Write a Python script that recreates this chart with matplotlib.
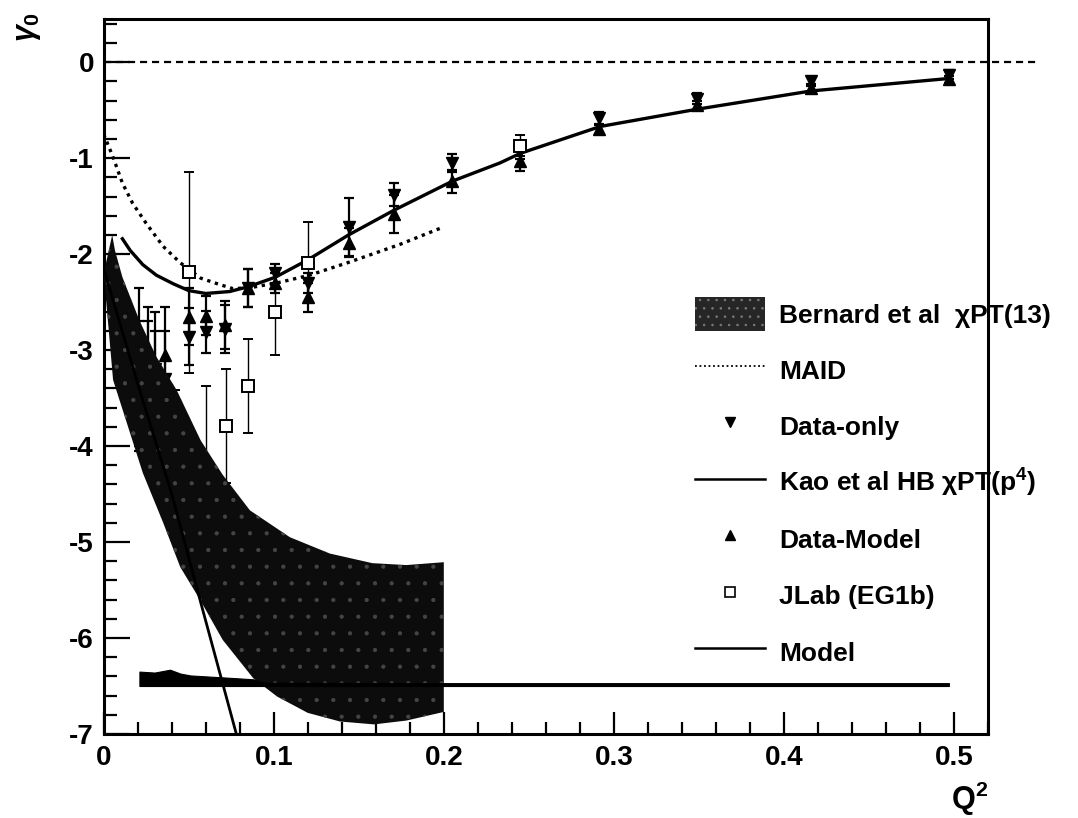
import numpy as np
import matplotlib
matplotlib.use("Agg")
import matplotlib.pyplot as plt
from matplotlib.patches import Patch
from matplotlib.lines import Line2D
from matplotlib.ticker import MultipleLocator

plt.rcParams["font.family"] = ["Liberation Sans", "DejaVu Sans"]
plt.rcParams["font.weight"] = "bold"
plt.rcParams["axes.labelweight"] = "bold"
plt.rcParams["axes.unicode_minus"] = False
plt.rcParams["mathtext.fontset"] = "custom"
plt.rcParams["mathtext.rm"] = "Liberation Sans:bold"
plt.rcParams["mathtext.it"] = "Liberation Sans:bold:italic"
plt.rcParams["mathtext.bf"] = "Liberation Sans:bold"
plt.rcParams["hatch.linewidth"] = 0.6

# ---- Bernard et al chiPT band (upper / lower edges) ----
band_up_x = [0.0, 0.005, 0.0066, 0.011, 0.021, 0.031, 0.043, 0.057, 0.070, 0.086, 0.1095, 0.133, 0.158, 0.178, 0.200]
band_up_y = [-2.2, -1.8, -1.96, -2.24, -2.69, -3.07, -3.42, -3.94, -4.30, -4.67, -4.95, -5.12, -5.22, -5.24, -5.21]
band_lo_x = [0.0, 0.003, 0.0055, 0.0174, 0.023, 0.035, 0.045, 0.0566, 0.070, 0.088, 0.102, 0.120, 0.139, 0.159, 0.178, 0.200]
band_lo_y = [-2.2, -2.8, -3.31, -3.97, -4.28, -4.80, -5.26, -5.60, -6.02, -6.42, -6.61, -6.78, -6.87, -6.90, -6.86, -6.77]

# ---- MAID (dotted) ----
maid_x = [0.0, 0.0055, 0.011, 0.017, 0.025, 0.035, 0.045, 0.057, 0.067, 0.076, 0.086, 0.102, 0.121, 0.145, 0.174, 0.198]
maid_y = [-0.75, -0.99, -1.26, -1.47, -1.68, -1.92, -2.09, -2.25, -2.31, -2.36, -2.35, -2.30, -2.22, -2.08, -1.90, -1.73]

# ---- Kao et al HB chiPT(p4) ----
kao_x = [0.0, 0.02, 0.04, 0.0566, 0.078, 0.082]
kao_y = [-2.15, -3.35, -4.50, -5.60, -7.00, -7.27]

# ---- Model ----
model_x = [0.011, 0.0155, 0.023, 0.031, 0.041, 0.050, 0.060, 0.074, 0.085, 0.101, 0.120, 0.144, 0.171, 0.205, 0.233, 0.245, 0.292, 0.349, 0.416, 0.497]
model_y = [-1.84, -1.96, -2.11, -2.22, -2.31, -2.38, -2.41, -2.39, -2.34, -2.24, -2.06, -1.80, -1.54, -1.24, -1.05, -0.95, -0.67, -0.49, -0.30, -0.17]

# ---- Data points ----
q2 = [0.021, 0.026, 0.030, 0.036, 0.050, 0.060, 0.0714, 0.085, 0.101, 0.120, 0.144, 0.171, 0.205, 0.245, 0.291, 0.349, 0.416, 0.497]
data_only = [-3.2, -3.3, -3.2, -3.3, -2.86, -2.81, -2.78, -2.35, -2.20, -2.30, -1.72, -1.38, -1.05, -0.93, -0.58, -0.38, -0.20, -0.13]
data_only_err = [0.85, 0.75, 0.6, 0.5, 0.30, 0.22, 0.25, 0.20, 0.10, 0.10, 0.30, 0.12, 0.09, 0.08, 0.06, 0.06, 0.05, 0.05]
data_model = [-3.35, -3.45, -3.4, -3.05, -2.65, -2.64, -2.74, -2.35, -2.30, -2.45, -1.88, -1.58, -1.24, -1.03, -0.70, -0.45, -0.27, -0.18]
data_model_err = [0.65, 0.75, 0.6, 0.5, 0.30, 0.20, 0.25, 0.20, 0.10, 0.15, 0.15, 0.20, 0.12, 0.10, 0.05, 0.05, 0.04, 0.04]

jlab_x = [0.042, 0.050, 0.060, 0.072, 0.085, 0.101, 0.120, 0.245]
jlab_y = [-4.2, -2.19, -4.30, -3.79, -3.375, -2.60, -2.09, -0.87]
jlab_err = [0.78, 1.05, 0.93, 0.59, 0.49, 0.45, 0.42, 0.11]

# ---- systematic band ----
sys_x = [0.021, 0.030, 0.039, 0.045, 0.051, 0.070, 0.088, 0.094, 0.200, 0.300, 0.400, 0.497]
sys_top = [-6.35, -6.36, -6.33, -6.37, -6.39, -6.41, -6.43, -6.465, -6.47, -6.47, -6.47, -6.47]
sys_bot = [-6.50] * len(sys_x)

x_ticks = [0.0, 0.1, 0.2, 0.3, 0.4, 0.5]
x_ticklabels = ["0", "0.1", "0.2", "0.3", "0.4", "0.5"]
y_ticks = [-7, -6, -5, -4, -3, -2, -1, 0]
y_ticklabels = ["-7", "-6", "-5", "-4", "-3", "-2", "-1", "0"]

fig = plt.figure(figsize=(10.78, 8.18), dpi=100)
ax = fig.add_axes([0.0962, 0.1027, 0.8203, 0.8741])
ax.set_xlim(0, 0.52)
ax.set_ylim(-7, 0.45)

# zero line
ax.plot([0.0, 0.548], [0.0, 0.0], ls=(0, (3.2, 2.2)), color="k", lw=1.6, clip_on=False, zorder=2)

# data
eb = dict(color="k", ecolor="k", elinewidth=1.6, capsize=3.5, capthick=1.6, zorder=3)
ax.errorbar(q2, data_only, yerr=data_only_err, fmt="v", ms=9, **eb)
ax.errorbar(q2, data_model, yerr=data_model_err, fmt="^", ms=9, **eb)
ax.errorbar(jlab_x, jlab_y, yerr=jlab_err, fmt="s", ms=8.5, mfc="white", mec="k", mew=1.4,
            color="k", ecolor="k", elinewidth=1.0, capsize=3.5, capthick=1.0, zorder=4)

# curves
ax.plot(maid_x, maid_y, color="k", ls=(0, (1, 1.4)), lw=2.4, zorder=3)
ax.plot(model_x, model_y, color="k", lw=2.4, zorder=3)
ax.plot(kao_x, kao_y, color="k", lw=2.0, zorder=6)

# Bernard band
bx = list(band_up_x) + list(band_lo_x[::-1])
by = list(band_up_y) + list(band_lo_y[::-1])
ax.fill(bx, by, facecolor="#0c0c0c", edgecolor="#454545", hatch=".", linewidth=0, zorder=5)

# systematic band
ax.fill_between(sys_x, sys_bot, sys_top, color="k", linewidth=0.8, zorder=5)

# axes style
for s in ["left", "bottom", "right", "top"]:
    ax.spines[s].set_linewidth(2.2)
ax.set_xticks(x_ticks)
ax.set_xticklabels(x_ticklabels)
ax.set_yticks(y_ticks)
ax.set_yticklabels(y_ticklabels)
ax.xaxis.set_minor_locator(MultipleLocator(0.02))
ax.yaxis.set_minor_locator(MultipleLocator(0.2))
ax.tick_params(axis="both", which="both", direction="in", top=False, right=False, width=1.6, labelsize=20)
ax.tick_params(axis="x", which="major", length=16, pad=8)
ax.tick_params(axis="x", which="minor", length=8.5)
ax.tick_params(axis="y", which="major", length=19, pad=7)
ax.tick_params(axis="y", which="minor", length=9.5)

ax.set_xlabel("Q$^{2}$", loc="right", fontsize=22, fontweight="bold", labelpad=6)
fig.text(0.026, 0.985, r"$\gamma_{0}$", rotation=90, ha="center", va="top", fontsize=22)

handles = [
    Patch(facecolor="#262626", edgecolor="#7a7a7a", hatch="..", linewidth=0),
    Line2D([], [], color="k", ls=(0, (1, 1.5)), lw=1.3),
    Line2D([], [], ls="none", marker="v", ms=7, color="k"),
    Line2D([], [], color="k", lw=1.8),
    Line2D([], [], ls="none", marker="^", ms=7, color="k"),
    Line2D([], [], ls="none", marker="s", ms=6.5, mfc="white", mec="k", mew=1.2),
    Line2D([], [], color="k", lw=1.8),
]
labels = [
    "Bernard et al  χPT(13)",
    "MAID",
    "Data-only",
    "Kao et al HB χPT(p$^{4}$)",
    "Data-Model",
    "JLab (EG1b)",
    "Model",
]
leg = ax.legend(handles, labels, loc="upper left", bbox_to_anchor=(695 / 1078, 1 - 297 / 818),
                bbox_transform=fig.transFigure, frameon=False, fontsize=19,
                handlelength=2.65, handleheight=1.6, handletextpad=0.55,
                labelspacing=0.85, borderpad=0, borderaxespad=0)
leg.set_zorder(10)

fig.savefig("out.png", dpi=100)
